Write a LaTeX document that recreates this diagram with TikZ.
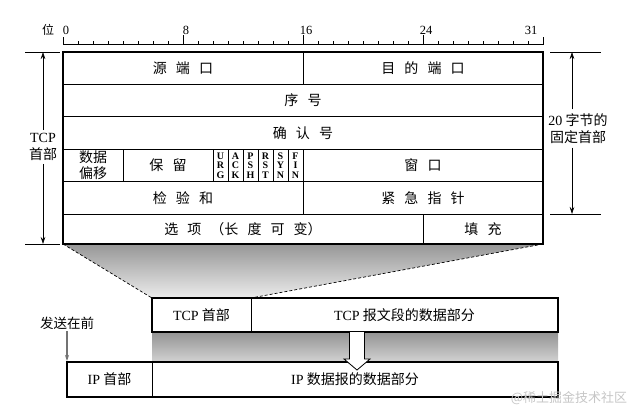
\documentclass[tikz,border=0pt]{standalone}
\usepackage{fontspec}
\setmainfont{Liberation Serif}
\newfontfamily\zhfont{Noto Sans CJK SC}
\usetikzlibrary{arrows.meta,backgrounds,calc}
\newcommand\gapz{\hspace{0.65em}}
\begin{document}
\begin{tikzpicture}[x=1pt,y=-1pt,
  cell/.style={draw, line width=0.7pt, anchor=north west, inner sep=0pt, outer sep=0pt,
    font=\zhfont\fontsize{14}{16.5}\selectfont, align=center},
  flag/.style={cell, minimum width=15pt, minimum height=32.4pt,
    font=\rmfamily\bfseries\fontsize{10}{9.6}\selectfont},
  frame/.style={line width=1.8pt},
  dim/.style={line width=0.6pt},
  dimarrow/.style={-{Stealth[length=7pt,width=4.5pt]}, line width=0.6pt},
  ticklabel/.style={anchor=base, inner sep=0pt, font=\fontsize{12.5}{12.5}\selectfont},
  lbl/.style={align=center, inner sep=3pt, font=\zhfont\fontsize{14}{17}\selectfont},
]
\useasboundingbox (0,0) rectangle (642,418);

% ruler
\draw[line width=0.6pt] (63,37) -- (63,44) -- (543,44) -- (543,37);
\foreach \i in {1,...,31} \draw[line width=0.6pt] (63+15*\i,44) -- ++(0,-3);
\foreach \i in {8,16,24} \draw[line width=0.6pt] (63+15*\i,44) -- ++(0,-9);
\foreach \i in {0,8,16,24,31} \node[ticklabel] (lab\i) at (66+15*\i,34) {\i};
\node[font=\zhfont\fontsize{12}{12}\selectfont, inner sep=0pt] (wei) at (48,30) {位};

% TCP header table
\node[cell, minimum width=240pt, minimum height=32.4pt] (src) at (63,52) {源\gapz 端\gapz 口};
\node[cell, minimum width=240pt, minimum height=32.4pt] (dst) at (303,52) {目\gapz 的\gapz 端\gapz 口};
\node[cell, minimum width=480pt, minimum height=32.4pt] (seq) at (63,84.4) {序\gapz 号};
\node[cell, minimum width=480pt, minimum height=32.4pt] (ackn) at (63,116.8) {确\gapz 认\gapz 号};
\node[cell, minimum width=60pt, minimum height=32.4pt] (off) at (63,149.2) {数据\\偏移};
\node[cell, minimum width=90pt, minimum height=32.4pt] (rsv) at (123,149.2) {保\gapz 留};
\node[flag] (furg) at (213,149.2) {U\\R\\G};
\node[flag] (fack) at (228,149.2) {A\\C\\K};
\node[flag] (fpsh) at (243,149.2) {P\\S\\H};
\node[flag] (frst) at (258,149.2) {R\\S\\T};
\node[flag] (fsyn) at (273,149.2) {S\\Y\\N};
\node[flag] (ffin) at (288,149.2) {F\\I\\N};
\node[cell, minimum width=240pt, minimum height=32.4pt] (win) at (303,149.2) {窗\gapz 口};
\node[cell, minimum width=240pt, minimum height=32.4pt] (chk) at (63,181.6) {检\gapz 验\gapz 和};
\node[cell, minimum width=240pt, minimum height=32.4pt] (uptr) at (303,181.6) {紧\gapz 急\gapz 指\gapz 针};
\node[cell, minimum width=360pt, minimum height=30pt] (opt) at (63,214) {选\gapz 项\gapz（长\gapz 度\gapz 可\gapz 变）};
\node[cell, minimum width=120pt, minimum height=30pt] (pad) at (423,214) {填\gapz 充};
\draw[frame] (src.north west) rectangle (pad.south east);

% left dimension
\coordinate (ltop) at (43,52);
\coordinate (lbot) at (43,244);
\draw[dim] (25,52) -- (60,52);
\draw[dim] (25,244) -- (60,244);
\node[lbl] (tcplbl) at (43,147) {{\rmfamily TCP}\\首部};
\draw[dimarrow] (tcplbl) -- (ltop);
\draw[dimarrow] (tcplbl) -- (lbot);

% right dimension
\coordinate (rtop) at (572,52);
\coordinate (rbot) at (572,214);
\draw[dim] (550,52) -- (601,52);
\draw[dim] (550,214) -- (601,214);
\node[lbl, inner sep=4pt] (fixlbl) at (578,128.5) {{\rmfamily 20} 字节的\\固定首部};
\draw[dimarrow] (fixlbl.north -| rtop) -- (rtop);
\draw[dimarrow] (fixlbl.south -| rbot) -- (rbot);

% TCP segment
\node[cell, minimum width=99pt, minimum height=34pt] (tcph) at (152,298) {{\rmfamily TCP} 首部};
\node[cell, minimum width=307pt, minimum height=34pt] (tcpd) at (251,298) {{\rmfamily TCP} 报文段的数据部分};
\draw[frame] (tcph.north west) rectangle (tcpd.south east);

% IP datagram
\node[cell, minimum width=85pt, minimum height=35pt] (iph) at (67,362) {{\rmfamily IP} 首部};
\node[cell, minimum width=406pt, minimum height=35pt] (ipd) at (152,362) {{\rmfamily IP} 数据报的数据部分};
\draw[frame] (iph.north west) rectangle (ipd.south east);

% dashed projection lines
\draw[dashed, line width=0.7pt, dash pattern=on 3pt off 2pt] (opt.south west) -- (tcph.north west);
\draw[dashed, line width=0.7pt, dash pattern=on 3pt off 2pt] (pad.south east) -- (tcph.north east);

% shading
\begin{scope}[on background layer]
\shade[top color=gray!82, bottom color=gray!15] (opt.south west) -- (pad.south east) -- (tcph.north east) -- (tcph.north west) -- cycle;
\shade[top color=gray!85, bottom color=gray!35] (tcph.south west) rectangle (tcpd.south east |- ipd.north);
\end{scope}

% hollow arrow
\coordinate (arrS) at (357,332);
\coordinate (arrT) at (357,370);
\draw[line width=0.8pt, fill=white, line join=miter]
  ($(arrS)+(-7.5,0)$) -- ($(arrT)+(-7.5,-11)$) -- ($(arrT)+(-13,-11)$) -- (arrT)
  -- ($(arrT)+(13,-11)$) -- ($(arrT)+(7.5,-11)$) -- ($(arrS)+(7.5,0)$);

% send-first label
\node[font=\zhfont\fontsize{13.5}{13.5}\selectfont, inner sep=2pt] (send) at (67,323) {发送在前};
\coordinate (sendtip) at (67,361);
\draw[-{Stealth[length=6pt,width=4pt]}, line width=1.4pt, black!55] (send) -- (sendtip);

% watermark
\node[font=\zhfont\fontsize{13}{13}\selectfont, text=gray!45, inner sep=0pt] (wm) at (569,398) {@稀土掘金技术社区};
\end{tikzpicture}
\end{document}
